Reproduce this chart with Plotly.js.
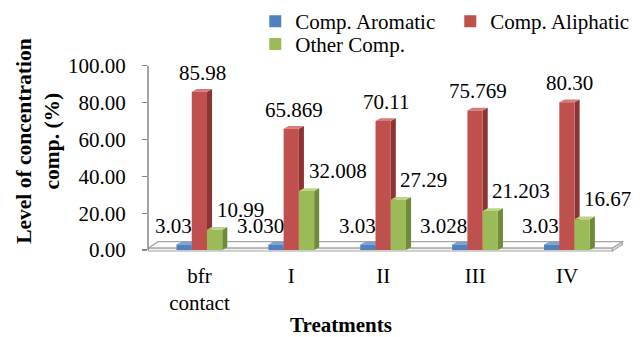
<!DOCTYPE html>
<html>
<head>
<meta charset="utf-8">
<script src="https://cdn.plot.ly/plotly-3.0.1.min.js"></script>
<style>
  html, body { margin: 0; padding: 0; background: #ffffff; }
  #chart { width: 643px; height: 337px; }
</style>
</head>
<body>
<div id="chart"></div>
<script>
// Treatments on the horizontal axis
const categories = ['bfr<br>contact', 'I', 'II', 'III', 'IV'];

// Concentration levels (%) as printed above each column
const aromaticText  = ['3.03', '3.030', '3.03', '3.028', '3.03'];
const aliphaticText = ['85.98', '65.869', '70.11', '75.769', '80.30'];
const otherText     = ['10.99', '32.008', '27.29', '21.203', '16.67'];

const seriesNames = ['Comp. Aromatic', 'Comp. Aliphatic', 'Other Comp.'];
const yTicks = [0, 20, 40, 60, 80, 100];

const aromatic  = aromaticText.map(Number);
const aliphatic = aliphaticText.map(Number);
const other     = otherText.map(Number);

const FONT = "'Liberation Serif', 'Times New Roman', serif";
const FS = 21;
const xs = categories.map((_, i) => i);

// column geometry (axis units) and the pseudo-3D depth offsets
const W = 0.166;
const OFFSETS = [-0.25, -0.084, 0.082];
const DX = 0.055;   // depth shift along x
const DY = 1.5;     // depth shift along y

const styles = [
  { front: '#4F81BD', side: '#385F8F', top: '#7EA3D1' },
  { front: '#C0504D', side: '#8A3533', top: '#D77B78' },
  { front: '#9BBB59', side: '#6F8A3A', top: '#BCD486' }
];
const series = [aromatic, aliphatic, other];
const labels = [aromaticText, aliphaticText, otherText];
const legendOf = ['legend', 'legend', 'legend2'];

const traces = series.map((vals, s) => ({
  type: 'bar',
  name: seriesNames[s],
  legend: legendOf[s],
  x: xs,
  y: vals,
  width: W,
  offset: OFFSETS[s],
  marker: { color: styles[s].front, line: { width: 0 } },
  hoverinfo: 'skip'
}));

const shapes = [];

// floor slab
const floor = { fl: -0.56, fr: 4.494, bl: -0.451, br: 4.603, front: 1.0, back: 4.55, bottom: -0.5, backBottom: 3.03 };
shapes.push({
  type: 'path', xref: 'x', yref: 'y', layer: 'below',
  path: `M${floor.fl},${floor.front} L${floor.fr},${floor.front} L${floor.br},${floor.back} L${floor.bl},${floor.back} Z`,
  fillcolor: '#ffffff', line: { color: '#A6A6A6', width: 1.2 }
});
shapes.push({
  type: 'path', xref: 'x', yref: 'y', layer: 'below',
  path: `M${floor.fl},${floor.front} L${floor.fr},${floor.front} L${floor.fr},${floor.bottom} L${floor.fl},${floor.bottom} Z`,
  fillcolor: '#f2f2f2', line: { color: '#A6A6A6', width: 1.2 }
});
shapes.push({
  type: 'path', xref: 'x', yref: 'y', layer: 'below',
  path: `M${floor.fr},${floor.front} L${floor.br},${floor.back} L${floor.br},${floor.backBottom} L${floor.fr},${floor.bottom} Z`,
  fillcolor: '#e6e6e6', line: { color: '#A6A6A6', width: 1.2 }
});

// side and top faces of every column, in drawing order left to right
xs.forEach((x, j) => {
  series.forEach((vals, s) => {
    const v = vals[j];
    const xl = x + OFFSETS[s];
    const xr = xl + W;
    shapes.push({
      type: 'path', xref: 'x', yref: 'y', layer: 'below',
      path: `M${xr},0 L${xr + DX},${DY} L${xr + DX},${v + DY} L${xr},${v} Z`,
      fillcolor: styles[s].side, line: { width: 0 }
    });
    shapes.push({
      type: 'path', xref: 'x', yref: 'y', layer: 'below',
      path: `M${xl},${v} L${xl + DX},${v + DY} L${xr + DX},${v + DY} L${xr},${v} Z`,
      fillcolor: styles[s].top, line: { width: 0 }
    });
  });
});

// vertical axis line
shapes.push({
  type: 'line', xref: 'paper', yref: 'y', x0: 0, x1: 0, y0: 0, y1: 100,
  line: { color: '#868686', width: 1.5 }
});

// value labels
const annotations = [];
const labelPlace = [
  { anchor: 'right', at: 'right', dx: 1, dy: 18 },
  { anchor: 'center', at: 'mid', dx: 3, dy: 19 },
  { anchor: 'left', at: 'mid', dx: 1, dy: 20 }
];
xs.forEach((x, j) => {
  series.forEach((vals, s) => {
    const xl = x + OFFSETS[s];
    const p = labelPlace[s];
    annotations.push({
      xref: 'x', yref: 'y',
      x: p.at === 'right' ? xl + W : xl + W / 2,
      y: vals[j],
      text: labels[s][j],
      showarrow: false, borderpad: 0,
      xanchor: p.anchor, yanchor: 'middle',
      xshift: p.dx, yshift: p.dy,
      font: { family: FONT, size: FS, color: '#000000' }
    });
  });
});

// axis titles
annotations.push({
  xref: 'paper', yref: 'paper', x: 0.405, y: -0.385,
  xanchor: 'center', yanchor: 'middle', showarrow: false, borderpad: 0,
  text: '<b>Treatments</b>',
  font: { family: FONT, size: FS, color: '#000000' }
});
annotations.push({
  xref: 'paper', yref: 'paper', x: -0.23, y: 0.594,
  xanchor: 'center', yanchor: 'middle', showarrow: false, textangle: -90,
  text: '<b>Level of concentration<br>comp. (%)</b>',
  font: { family: FONT, size: 21.5, color: '#000000' }
});

const legendBase = {
  xref: 'container', yref: 'container',
  xanchor: 'left', yanchor: 'top',
  orientation: 'h',
  entrywidth: 150, entrywidthmode: 'pixels',
  font: { family: FONT, size: FS, color: '#000000' },
  bgcolor: 'rgba(0,0,0,0)', traceorder: 'normal'
};

const layout = {
  width: 643, height: 337,
  margin: { l: 148, r: 18.5, t: 51, b: 84 },
  paper_bgcolor: '#ffffff', plot_bgcolor: 'rgba(0,0,0,0)',
  font: { family: FONT, size: FS, color: '#000000' },
  barmode: 'overlay',
  showlegend: true,
  legend: Object.assign({}, legendBase, { x: 0.397, y: 0.997 }),
  legend2: Object.assign({}, legendBase, { x: 0.397, y: 0.929 }),
  xaxis: {
    range: [-0.56, 4.62],
    tickvals: xs, ticktext: categories,
    showgrid: false, zeroline: false, showline: false, ticks: '',
    ticklabelstandoff: 8,
    tickfont: { family: FONT, size: FS, color: '#000000' },
    fixedrange: true
  },
  yaxis: {
    range: [-1.6, 100.5],
    tickvals: yTicks,
    tickformat: '.2f',
    showgrid: false, zeroline: false, showline: false,
    ticks: 'outside', ticklen: 5, tickcolor: '#868686', tickwidth: 1.3,
    ticklabelstandoff: 12,
    tickfont: { family: FONT, size: FS, color: '#000000' },
    fixedrange: true
  },
  shapes: shapes,
  annotations: annotations
};

Plotly.newPlot('chart', traces, layout, { staticPlot: true, displayModeBar: false });
</script>
</body>
</html>
